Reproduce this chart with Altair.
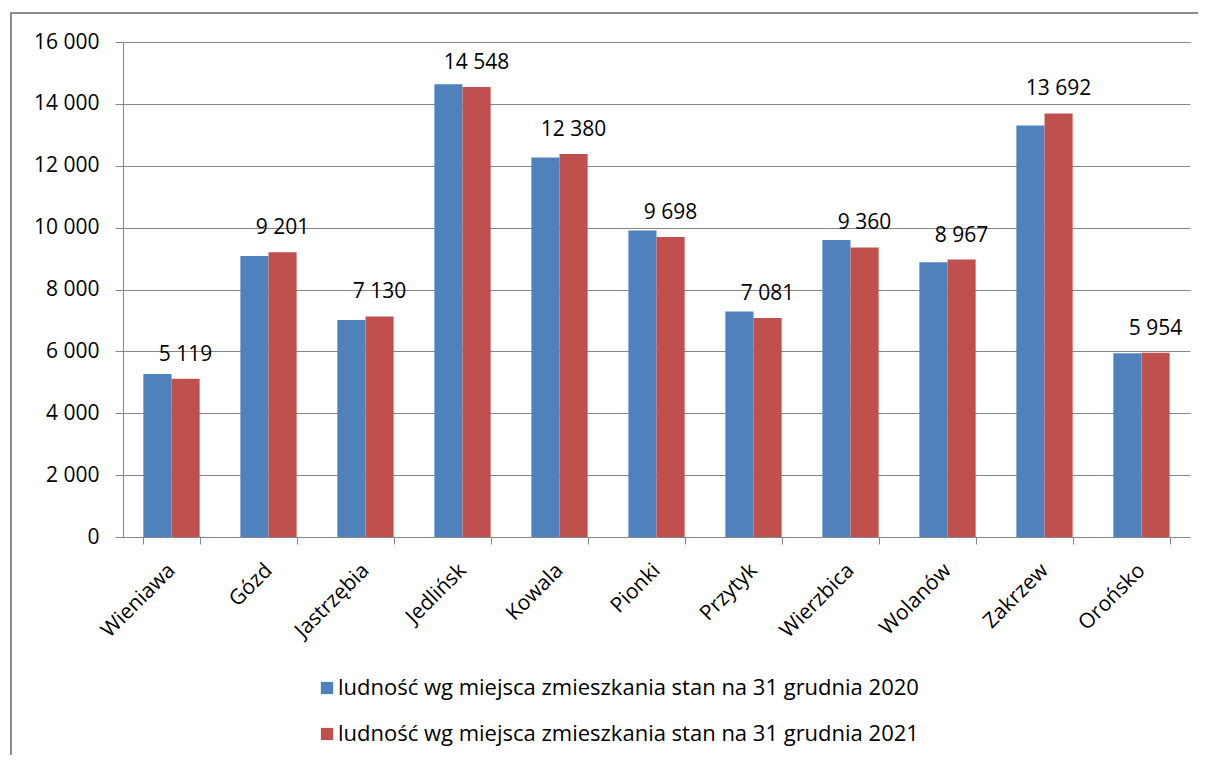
import altair as alt
import pandas as pd

gminy = ["Wieniawa", "Gózd", "Jastrzębia", "Jedlińsk", "Kowala", "Pionki",
         "Przytyk", "Wierzbica", "Wolanów", "Zakrzew", "Orońsko"]
v2020 = [5268, 9083, 7014, 14635, 12268, 9910, 7292, 9597, 8878, 13300, 5940]
v2021 = [5119, 9201, 7130, 14548, 12380, 9698, 7081, 9360, 8967, 13692, 5954]
series = ["ludność wg miejsca zmieszkania stan na 31 grudnia 2020",
          "ludność wg miejsca zmieszkania stan na 31 grudnia 2021"]
colors = ["#4F81BD", "#C0504D"]
y_ticks = [0, 2000, 4000, 6000, 8000, 10000, 12000, 14000, 16000]

rows = []
for g, a, b in zip(gminy, v2020, v2021):
    rows.append({"gmina": g, "seria": series[0], "wartosc": a,
                 "etykieta": f"{a:,}".replace(",", " ")})
    rows.append({"gmina": g, "seria": series[1], "wartosc": b,
                 "etykieta": f"{b:,}".replace(",", " ")})
df = pd.DataFrame(rows)

FONT = "Open Sans"
FS = 21
W, H = 1067, 495

x_enc = alt.X("gmina:N", sort=gminy, title=None,
              scale=alt.Scale(paddingInner=0.42, paddingOuter=0.21),
              axis=alt.Axis(labelAngle=-45, labelAlign="right", labelBaseline="middle",
                            labelPadding=23, tickBand="extent", ticks=True, tickSize=7,
                            tickColor="#868686", domainColor="#868686", grid=False,
                            labelFont=FONT, labelFontSize=FS, labelColor="#000000"))
y_enc = alt.Y("wartosc:Q", title=None,
              scale=alt.Scale(domain=[0, 16000], nice=False),
              axis=alt.Axis(values=y_ticks, grid=True, gridColor="#868686",
                            domainColor="#868686", tickColor="#868686", tickSize=8,
                            labelPadding=16, labelFont=FONT, labelFontSize=FS,
                            labelColor="#000000",
                            labelExpr="datum.value >= 1000 ? floor(datum.value / 1000) + ' 000' : '0'"))

bars = alt.Chart(df).mark_bar().encode(
    x=x_enc,
    xOffset=alt.XOffset("seria:N", sort=series),
    y=y_enc,
    color=alt.Color("seria:N", sort=series, title=None,
                    scale=alt.Scale(domain=series, range=colors),
                    legend=alt.Legend(orient="none", legendX=193, legendY=635,
                                      direction="vertical", symbolType="square",
                                      symbolSize=150, symbolStrokeWidth=0,
                                      labelFont=FONT, labelFontSize=22,
                                      labelColor="#000000", labelOffset=0,
                                      rowPadding=24, labelLimit=800)),
)

labels = alt.Chart(df).transform_filter(
    alt.datum.seria == series[1]
).mark_text(font=FONT, fontSize=FS, color="#000000", baseline="alphabetic", dy=-18).encode(
    x=alt.X("gmina:N", sort=gminy),
    xOffset=alt.XOffset("seria:N", sort=series),
    y=alt.Y("wartosc:Q"),
    text="etykieta:N",
)

border = alt.Chart(pd.DataFrame({"a": [0]})).mark_rect(
    fill="transparent", stroke="#8c8c8c", strokeWidth=2
).encode(
    x=alt.value(-112), x2=alt.value(W + 40),
    y=alt.value(-29), y2=alt.value(H + 260),
)

chart = alt.layer(border, bars, labels).properties(
    width=W, height=H,
    autosize="none",
    padding={"left": 115, "top": 34, "right": 8, "bottom": 218},
).configure_view(stroke="transparent")

chart.save("out.html", embed_options={"renderer": "svg", "actions": False})
